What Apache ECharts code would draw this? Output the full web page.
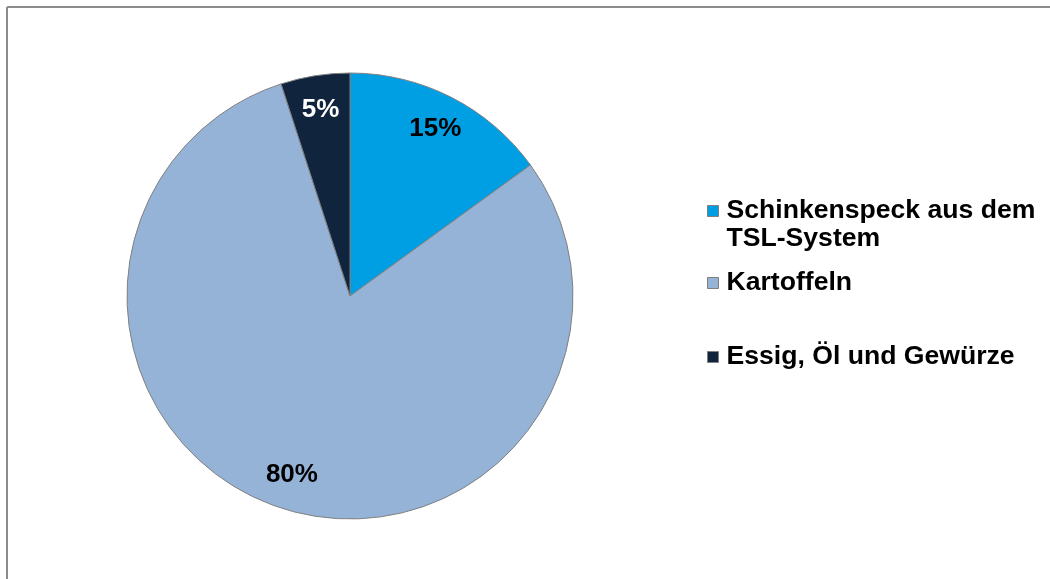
<!DOCTYPE html>
<html>
<head>
<meta charset="utf-8">
<script src="https://cdn.jsdelivr.net/npm/echarts@6/dist/echarts.min.js"></script>
<style>
  html, body { margin: 0; padding: 0; background: #fff; }
  #grafico_torta { width: 1050px; height: 579px; }
</style>
</head>
<body>
<div id="grafico_torta"></div>
<script>
var nombres = ["Schinkenspeck aus dem\nTSL-System", "Kartoffeln", "Essig, Öl und Gewürze"];
var valores = [15, 80, 5];
var colores = ["#009FE3", "#95B3D7", "#10243E"];
var colorEtiqueta = ["#000", "#000", "#fff"];

var Mydata = nombres.map(function (n, i) {
  return {
    value: valores[i],
    name: n,
    itemStyle: { color: colores[i] }
  };
});

// serie invisible solo para las etiquetas (más cerca del borde, como en Excel)
var etiquetas = nombres.map(function (n, i) {
  return {
    value: valores[i],
    name: n,
    itemStyle: { color: "transparent" },
    label: { color: colorEtiqueta[i] }
  };
});

// una leyenda por elemento para poder colocarlas como en el original
var legendTops = [169, 269, 343];
var leyendas = nombres.map(function (n, i) {
  return {
    data: [n],
    left: 707,
    top: legendTops[i],
    padding: 0,
    orient: "vertical",
    icon: "rect",
    itemWidth: 11,
    itemHeight: 11,
    itemStyle: { borderColor: "#7f7f7f", borderWidth: 1 },
    // linea vacia arriba para que el icono quede a la altura de la primera linea
    formatter: function (name) {
      return name.indexOf("\n") >= 0 ? "\n" + name : name;
    },
    textStyle: {
      fontFamily: "Liberation Sans, Arial",
      fontWeight: "bold",
      fontSize: 26.6,
      lineHeight: 28,
      color: "#000",
      padding: [0, 0, 0, 3]
    }
  };
});

echarts.init(document.querySelector("#grafico_torta")).setOption({
  animation: false,
  legend: leyendas,
  graphic: [
    { type: "line", shape: { x1: 7, y1: 7, x2: 1050, y2: 7 }, style: { stroke: "#8c8c8c", lineWidth: 2 } },
    { type: "line", shape: { x1: 7, y1: 7, x2: 7, y2: 579 }, style: { stroke: "#8c8c8c", lineWidth: 2 } }
  ],
  series: [
    {
      type: "pie",
      center: [350, 296],
      radius: [0, 223],
      startAngle: 90,
      clockwise: true,
      itemStyle: { borderColor: "#808080", borderWidth: 1 },
      label: { show: false },
      labelLine: { show: false },
      emphasis: { disabled: true },
      data: Mydata
    },
    {
      type: "pie",
      center: [350, 296],
      radius: [147, 223],
      startAngle: 90,
      clockwise: true,
      silent: true,
      legendHoverLink: false,
      label: {
        show: true,
        position: "inside",
        formatter: "{c}%",
        fontFamily: "Liberation Sans, Arial",
        fontWeight: "bold",
        fontSize: 26
      },
      labelLine: { show: false },
      emphasis: { disabled: true },
      data: etiquetas
    }
  ]
});
</script>
</body>
</html>
